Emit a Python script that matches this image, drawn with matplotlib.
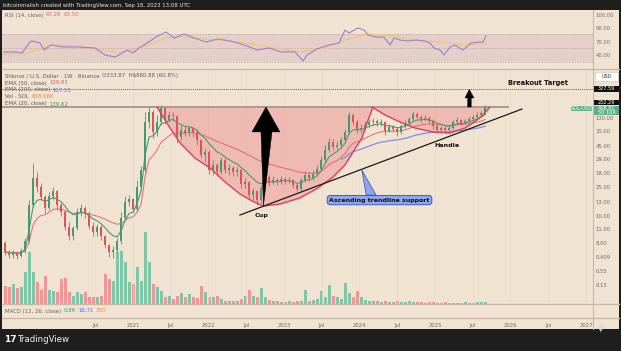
import numpy as np
import pandas as pd
import matplotlib
matplotlib.use("Agg")
import matplotlib.pyplot as plt
from matplotlib.patches import Rectangle, Polygon
from matplotlib.ticker import NullLocator

# ---------------- data ----------------
first_date = 2019.305          # fractional year of first candle
candle_step = 0.053            # spacing between candles (years)
first_open = 2.27
closes = [1.65, 1.49, 1.60, 1.44, 1.71, 2.43, 8.5, 21.8, 16.0, 11.3,
          7.65, 11.7, 13.9, 8.5, 6.7, 3.96, 2.89, 3.82, 6.7, 7.65,
          6.2, 4.1, 3.33, 3.96, 2.89, 2.11, 1.65, 1.77, 2.43, 5.4,
          9.5, 10.5, 7.4, 16.0, 28.9, 154, 218, 109, 154, 251,
          165, 197, 190, 91.3, 117, 105, 125, 109, 82.3, 48.8,
          54.2, 28.9, 34.4, 26.9, 41.0, 28.9, 31.0, 26.9, 28.9, 17.7,
          19.0, 12.1, 13.9, 10.1, 15.4, 22.6, 18.3, 20.4, 19.0, 21.1,
          19.7, 20.4, 17.1, 14.9, 20.4, 24.3, 21.8, 25.1, 29.9, 41.0,
          58.1, 76.8, 64.5, 69.1, 82.3, 109, 197, 154, 117, 125,
          139, 154, 160, 149, 154, 113, 130, 121, 109, 134,
          149, 171, 203, 184, 171, 177, 160, 134, 117, 125,
          117, 125, 154, 165, 149, 160, 171, 184, 197, 211, 260]
highs = [2.43, 1.77, 1.77, 1.65, 1.90, 2.70, 10.1, 36.9, 26.9, 18.3,
         12.1, 13.4, 16.0, 14.4, 9.1, 7.15, 4.7, 4.1, 7.65, 8.8,
         8.2, 6.9, 4.7, 4.4, 4.24, 2.89, 2.19, 2.04, 2.70, 6.7,
         11.7, 12.1, 10.9, 20.4, 33.2, 218, 260, 234, 197, 279,
         251, 226, 218, 197, 139, 134, 134, 130, 121, 85.2,
         62.3, 58.1, 41.0, 36.9, 45.5, 43.9, 35.6, 33.2, 32.1, 29.9,
         21.8, 19.7, 15.4, 14.4, 17.1, 25.1, 24.3, 23.4, 21.8, 23.4,
         22.6, 22.6, 21.1, 18.3, 21.8, 27.9, 26.9, 28.9, 34.4, 47.1,
         69.1, 88.2, 85.2, 79.5, 91.3, 121, 218, 211, 171, 144,
         160, 171, 177, 171, 171, 160, 144, 139, 130, 144,
         165, 184, 226, 218, 197, 197, 190, 171, 144, 134,
         134, 139, 165, 184, 171, 171, 184, 197, 218, 226, 279]
lows = [1.49, 1.34, 1.34, 1.30, 1.39, 1.60, 2.27, 7.9, 13.4, 10.1,
        6.45, 7.15, 10.1, 7.15, 5.8, 3.56, 2.51, 2.51, 3.56, 5.8,
        5.4, 3.69, 2.89, 2.89, 2.51, 1.90, 1.39, 1.34, 1.60, 2.19,
        5.05, 8.2, 6.7, 6.9, 14.4, 26.9, 125, 88.2, 94.6, 139,
        144, 154, 160, 74.1, 82.3, 94.6, 94.6, 91.3, 69.1, 43.9,
        38.2, 25.1, 24.3, 23.4, 25.1, 26.0, 24.3, 23.4, 23.4, 15.4,
        15.4, 10.9, 10.1, 8.5, 9.1, 14.4, 16.5, 17.7, 17.1, 17.7,
        17.7, 18.3, 15.4, 13.9, 13.9, 19.0, 19.7, 20.4, 23.4, 27.9,
        38.2, 54.2, 58.1, 60.1, 62.3, 76.8, 101, 139, 105, 105,
        117, 130, 139, 134, 134, 98, 109, 109, 94.6, 101,
        125, 139, 160, 171, 154, 160, 149, 121, 105, 105,
        105, 109, 121, 144, 139, 144, 154, 165, 177, 190, 203]
volume = [18, 17, 20, 16, 17, 32, 52, 32, 22, 14,
          28, 14, 13, 12, 25, 26, 12, 8, 12, 10,
          12, 7, 7, 7, 8, 30, 25, 23, 52, 53,
          42, 22, 20, 37, 23, 72, 42, 20, 17, 13,
          7, 8, 5, 8, 11, 7, 10, 7, 6, 18,
          12, 7, 7, 8, 5, 3, 3, 3, 3, 5,
          8, 14, 8, 7, 16, 7, 4, 3, 3, 2,
          2, 3, 2, 3, 3, 14, 3, 4, 5, 13,
          7, 19, 8, 7, 5, 21, 11, 7, 13, 7,
          4, 3, 3, 3, 2, 3, 2, 2, 3, 2,
          2, 3, 2, 2, 2, 1.5, 2, 2, 1.5, 1.5,
          2, 1.5, 1.5, 1.5, 1.5, 2, 1.5, 1.5, 2, 2, 2]

# RSI (14) and its moving average
rsi_dates = [2019.291, 2019.450, 2019.530, 2019.636, 2019.662, 2019.768, 2019.821, 2019.914,
             2020.073, 2020.285, 2020.497, 2020.629, 2020.762, 2020.815, 2020.921, 2021.000,
             2021.079, 2021.185, 2021.305, 2021.437, 2021.543, 2021.675, 2021.808, 2021.967,
             2022.126, 2022.285, 2022.391, 2022.550, 2022.642, 2022.801, 2022.960, 2023.146,
             2023.252, 2023.305, 2023.437, 2023.596, 2023.728, 2023.808, 2023.861, 2023.980,
             2024.060, 2024.113, 2024.219, 2024.325, 2024.404, 2024.457, 2024.536, 2024.642,
             2024.748, 2024.854, 2024.934, 2024.987, 2025.066, 2025.119, 2025.199, 2025.265,
             2025.371, 2025.477, 2025.583, 2025.636, 2025.675]
rsi_values = [44.3, 44.3, 42.9, 58.6, 60.0, 57.1, 47.1, 54.3,
              51.4, 51.4, 50.0, 40.0, 37.1, 40.0, 47.1, 42.9,
              50.0, 57.1, 65.7, 72.9, 64.3, 70.0, 64.3, 58.6,
              62.9, 60.0, 57.1, 51.4, 47.1, 50.0, 44.3, 44.3,
              31.4, 40.0, 48.6, 54.3, 57.1, 75.7, 71.4, 78.6,
              75.7, 68.6, 65.7, 65.7, 54.3, 64.3, 61.4, 60.0,
              61.4, 60.0, 57.1, 50.0, 47.1, 40.0, 51.4, 54.3,
              47.1, 57.1, 58.6, 58.6, 67.1]
rsi_ma_dates = [2019.291, 2019.556, 2019.914, 2020.285, 2020.603, 2020.815, 2021.132,
                2021.437, 2021.649, 2021.967, 2022.391, 2022.801, 2023.225, 2023.543,
                2023.808, 2024.113, 2024.377, 2024.748, 2025.172, 2025.424, 2025.675]
rsi_ma_values = [41.4, 41.4, 54.3, 52.9, 47.1, 42.9, 51.4,
                 64.3, 65.7, 62.9, 58.6, 51.4, 44.3, 50.0,
                 61.4, 70.0, 68.6, 61.4, 57.1, 54.3, 57.1]

# drawings on the chart
resistance = 260
breakout_target = 482
cup_dates = [2021.318, 2021.490, 2021.623, 2021.820, 2022.020, 2022.219, 2022.417, 2022.576,
             2022.722, 2022.947, 2023.212, 2023.450, 2023.649, 2023.808, 2023.940, 2024.033,
             2024.099, 2024.179]
cup_prices = [260, 125, 74.1, 43.9, 31.0, 19.0, 12.5, 9.8,
              8.2, 8.8, 10.9, 15.4, 22.6, 34.4, 60.1, 88.2,
              149, 260]
handle_dates = [2024.166, 2024.338, 2024.536, 2024.735, 2024.974, 2025.199, 2025.397,
                2025.503, 2025.623, 2025.728]
handle_prices = [260, 197, 154, 125, 109, 105, 125, 149, 190, 260]
trend_dates = [2022.417, 2026.152]
trend_prices = [6.0, 242]
big_arrow_dates = [2022.728, 2022.695, 2022.576, 2022.762, 2022.947, 2022.841]
big_arrow_prices = [8.2, 109, 109, 260, 109, 109]
small_arrow_dates = [2025.433, 2025.433, 2025.397, 2025.454, 2025.517, 2025.480, 2025.480]
small_arrow_prices = [260, 356, 356, 482, 356, 356, 260]
pointer_dates = [2024.030, 2024.09, 2024.22]
pointer_prices = [29.0, 12.0, 12.0]

year_ticks = [2020.5, 2021, 2021.5, 2022, 2022.5, 2023, 2023.5, 2024, 2024.5,
              2025, 2025.5, 2026, 2026.5, 2027]
year_labels = ['Jul', '2021', 'Jul', '2022', 'Jul', '2023', 'Jul', '2024', 'Jul',
               '2025', 'Jul', '2026', 'Jul', '2027']
price_ticks = [177, 113, 66.8, 42.4, 26.0, 16.0, 9.5, 5.8, 3.69, 2.27, 1.39, 0.851, 0.523]
price_labels = ['130.00', '30.00', '45.00', '29.00', '18.00', '25.00', '13.00',
                '10.00', '11.00', '8.00', '0.409', '0.55', '0.15']
rsi_ticks = [97.1, 78.6, 58.6, 40.0]
rsi_labels = ['100.00', '90.00', '70.00', '40.00']

# ---------------- derived series ----------------
n = len(closes)
dates = first_date + candle_step * np.arange(n)
closes = np.array(closes, float)
opens = np.concatenate([[first_open], closes[:-1]])
highs = np.maximum(np.array(highs, float), np.maximum(opens, closes))
lows = np.minimum(np.array(lows, float), np.minimum(opens, closes))
up = closes >= opens
s = pd.Series(closes)
ema_fast = s.ewm(span=7, adjust=False).mean().values
ema_mid = s.ewm(span=20, adjust=False).mean().values
ema_slow = s.ewm(span=50, adjust=False).mean().values

# ---------------- figure ----------------
W, H = 621, 351
fig = plt.figure(figsize=(W / 100, H / 100), dpi=100)
fig.patch.set_facecolor('#1e1e1e')
BG = '#f1e3d2'
GRID = '#eadbc9'
SEP = '#c9b9a6'
LBL = '#6e6a66'


def rect(x0, y0, x1, y1):
    return [x0 / W, 1 - y1 / H, (x1 - x0) / W, (y1 - y0) / H]


def fx(x):
    return x / W


def fy(y):
    return 1 - y / H


fig.patches.append(Rectangle((fx(2), fy(329)), 617 / W, 319 / H, transform=fig.transFigure,
                             facecolor=BG, edgecolor='none', zorder=-5))

xlim = (2019.265, 2027.093)

# RSI panel
ax_r = fig.add_axes(rect(2, 10, 593, 68))
ax_r.set_facecolor('none')
ax_r.set_xlim(*xlim)
ax_r.set_ylim(21.4, 104.3)
ax_r.axhspan(30, 70, color='#e4cfc9', lw=0, zorder=0)
for lv in (70, 50, 30):
    ax_r.axhline(lv, color='#b8a69b', lw=0.5, ls=(0, (2, 2)), zorder=1)
ax_r.plot(rsi_ma_dates, rsi_ma_values, color='#f2c46b', lw=0.8, zorder=2)
ax_r.plot(rsi_dates, rsi_values, color='#9b7fd4', lw=0.8, zorder=3)
ax_r.yaxis.tick_right()
ax_r.set_yticks(rsi_ticks)
ax_r.set_yticklabels(rsi_labels)
ax_r.set_xticks([])
ax_r.tick_params(axis='y', length=0, pad=2, labelsize=3.8, labelcolor=LBL)

# volume axes (behind main)
ax_v = fig.add_axes(rect(2, 69, 593, 304))
ax_v.set_facecolor('none')
ax_v.set_xlim(*xlim)
ax_v.set_ylim(0, 235)
ax_v.bar(dates, volume, width=0.04, color=np.where(up, '#7fc6a8', '#f09696'), lw=0)
ax_v.axis('off')

# main price axes
ax = fig.add_axes(rect(2, 69, 593, 304))
ax.set_facecolor('none')
ax.set_yscale('log')
ax.set_xlim(*xlim)
ax.set_ylim(0.269, 979)
for xt in year_ticks:
    ax.axvline(xt, color=GRID, lw=0.5, zorder=0)

# cup & handle fills
ax.fill_between(cup_dates, cup_prices, resistance, color='#eb6e78', alpha=0.35, lw=0, zorder=1)
ax.fill_between(handle_dates, handle_prices, resistance, color='#eb6e78', alpha=0.35, lw=0, zorder=1)
ax.plot(cup_dates, cup_prices, color='#de3f5e', lw=1.0, zorder=4)
ax.plot(handle_dates, handle_prices, color='#de3f5e', lw=1.0, zorder=4)

# resistance and breakout target
ax.plot([xlim[0], 2025.97], [resistance, resistance], color='#a89c90', lw=1.4, zorder=2)
ax.axhline(breakout_target, color='#6b6258', lw=0.7, ls=(0, (1, 1)), zorder=2)

# EMAs
ax.plot(dates, ema_mid, color='#e06b6b', lw=0.7, zorder=2)
ax.plot(dates, ema_fast, color='#4c9a70', lw=0.8, zorder=2)
ax.plot(dates[84:], ema_slow[84:], color='#7d90e6', lw=0.9, zorder=2)

# candles
cols = np.where(up, '#3f9c74', '#de5451')
ax.vlines(dates, lows, highs, colors=cols, lw=0.6, zorder=3)
ax.bar(dates, np.abs(closes - opens) + closes * 0.01, bottom=np.minimum(opens, closes),
       width=0.032, color=cols, lw=0, zorder=3)

# trendline
ax.plot(trend_dates, trend_prices, color='#1a1a1a', lw=0.9, zorder=5)

# arrows
ax.add_patch(Polygon(np.column_stack([big_arrow_dates, big_arrow_prices]), closed=True,
                     facecolor='black', edgecolor='black', lw=0.3, zorder=6))
ax.add_patch(Polygon(np.column_stack([small_arrow_dates, small_arrow_prices]), closed=True,
                     facecolor='black', edgecolor='black', lw=0.3, zorder=6))

# labels
ax.text(2022.709, 6.0, 'Cup', fontsize=4.6, fontweight='bold', ha='center', va='center',
        color='#111111', zorder=7)
ax.text(2025.159, 66.8, 'Handle', fontsize=4.6, fontweight='bold', ha='center', va='center',
        color='#111111', zorder=7)
ax.text(2026.364, 601, 'Breakout Target', fontsize=4.8, fontweight='bold', ha='center',
        va='center', color='#111111', zorder=7)
ax.add_patch(Polygon(np.column_stack([pointer_dates, pointer_prices]),
                     closed=True, facecolor='#8ea6ee', edgecolor='#2f4ea8', lw=0.5, zorder=6))
ax.text(2024.265, 10.1, 'Ascending trendline support', fontsize=4.5, fontweight='bold',
        ha='center', va='center', color='#111111', zorder=8,
        bbox=dict(boxstyle='round,pad=0.35,rounding_size=0.5', fc='#8ea6ee', ec='#2f4ea8', lw=0.6))

ax.yaxis.tick_right()
ax.set_yticks(price_ticks)
ax.set_yticklabels(price_labels)
ax.yaxis.set_minor_locator(NullLocator())
ax.set_xticks([])
ax.tick_params(axis='y', length=0, pad=2, labelsize=3.8, labelcolor=LBL)

# MACD panel + time axis
ax_m = fig.add_axes(rect(2, 304, 593, 318))
ax_m.set_facecolor('none')
ax_m.set_xlim(*xlim)
ax_m.set_yticks([])
ax_m.set_xticks(year_ticks)
ax_m.set_xticklabels(year_labels)
ax_m.tick_params(axis='x', length=0, pad=3.5, labelsize=3.8, labelcolor=LBL)

for a in (ax_r, ax, ax_m, ax_v):
    for sp in a.spines.values():
        sp.set_visible(False)

# separators
for yy in (68.5, 304, 318):
    fig.add_artist(plt.Line2D([fx(2), fx(619)], [fy(yy), fy(yy)], color=SEP, lw=1.0))
fig.add_artist(plt.Line2D([fx(593), fx(593)], [fy(10), fy(329)], color=SEP, lw=0.8))

renderer = fig.canvas.get_renderer()


def chain(x, y, parts, size=3.9, gap=2.5):
    for txt, col in parts:
        t = fig.text(fx(x), fy(y), txt, color=col, fontsize=size, ha='left', va='center')
        x += t.get_window_extent(renderer).width + gap


fig.text(fx(3), fy(5), 'bitcoinmalish created with TradingView.com, Sep 18, 2023 13:08 UTC',
         color='#e6e6e6', fontsize=3.9, ha='left', va='center')
chain(5, 15, [('RSI (14, close)', '#6a6560'), ('67.28', '#e0736b'), ('63.50', '#e0736b')])
chain(5, 75.5, [('Shknox / U.S. Dollar · 1W · Binance', '#5e5955'),
                ('O333.87  H$880.88 (60.8%)', '#5e5955')])
chain(5, 83, [('EMA (50, close)', '#5e5955'), ('129.83', '#e05a5a')])
chain(5, 90, [('EMA (200, close)', '#5e5955'), ('117.53', '#5b6fd6')])
chain(5, 97, [('Vol · SOL', '#5e5955'), ('638.06K', '#d98b3a')])
chain(5, 104, [('EMA (20, close)', '#5e5955'), ('139.62', '#3e9a63')])
chain(5, 311, [('MACD (12, 26, close)', '#6a6560'), ('0.89', '#3e9a63'), ('16.71', '#5b6fd6'),
               ('350', '#e8963a')])


def tag(x0, y0, x1, y1, txt, fc, tc, ec='none'):
    fig.patches.append(Rectangle((fx(x0), fy(y1)), (x1 - x0) / W, (y1 - y0) / H,
                                 transform=fig.transFigure, facecolor=fc, edgecolor=ec, lw=0.5,
                                 zorder=5))
    fig.text(fx((x0 + x1) / 2), fy((y0 + y1) / 2), txt, color=tc, fontsize=3.6,
             ha='center', va='center', zorder=6)


tag(595, 72, 618, 81, 'USD', 'white', '#333333', '#cccccc')
tag(594, 86, 619, 91.5, '327.59', '#111111', 'white')
tag(594, 99.5, 619, 104.5, '252.29', '#111111', 'white')
tag(571, 106, 592, 111, 'SOL/USD', '#5cae86', 'white')
tag(594, 105.5, 619, 110.5, '458.81', '#5cae86', 'white')
tag(594, 110.5, 619, 115.5, '50 10X', '#5cae86', 'white')

# footer
fig.text(fx(4), fy(340), '17', color='white', fontsize=6.5, fontweight='bold', ha='left',
         va='center')
fig.text(fx(18), fy(340), 'TradingView', color='#f0f0f0', fontsize=6.2, ha='left', va='center')
fig.text(fx(600), fy(330), '✦', color='#d9d9d9', fontsize=10, ha='center', va='center',
         alpha=0.85)

fig.savefig('out.png', dpi=100, facecolor=fig.get_facecolor())
